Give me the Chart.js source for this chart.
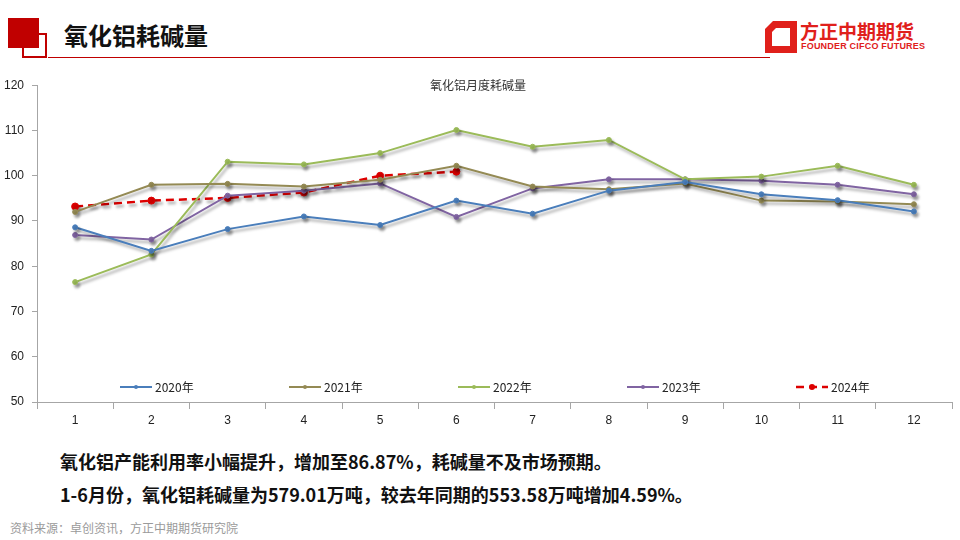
<!DOCTYPE html>
<html>
<head>
<meta charset="utf-8">
<script src="https://cdn.jsdelivr.net/npm/chart.js@4.4.1/dist/chart.umd.min.js"></script>
<style>
  html, body { margin: 0; padding: 0; background: #fff; }
  body { width: 960px; height: 540px; position: relative; overflow: hidden; font-family: "Noto Sans CJK SC", sans-serif; }
  .sq-line { position: absolute; left: 22px; top: 33px; width: 21px; height: 21px; border: 2px solid #c00000; }
  .sq-fill { position: absolute; left: 8px; top: 18px; width: 31px; height: 30px; background: #c00000; }
  .rule { position: absolute; left: 48px; top: 57px; width: 722px; height: 1px; background: #c00000; }
  .title { position: absolute; left: 64px; top: 17px; font-size: 24px; font-weight: 700; color: #111; }
  .logo { position: absolute; left: 764px; top: 20px; }
  .logo-cn { position: absolute; left: 800px; top: 17px; font-size: 19px; font-weight: 700; color: #e0201b; }
  .logo-en { position: absolute; left: 801px; top: 41px; font-size: 9px; font-weight: 700; color: #e0201b; font-family: "Liberation Sans", sans-serif; letter-spacing: 0.2px; }
  #wrap { position: absolute; left: 0; top: 70px; width: 960px; height: 360px; }
  .note { position: absolute; left: 60px; font-size: 18px; font-weight: 700; color: #111; }
  .src { position: absolute; left: 10px; top: 519px; font-size: 12px; color: #9a9a9a; }
</style>
</head>
<body>
<div class="sq-line"></div>
<div class="sq-fill"></div>
<div class="rule"></div>
<div class="title">氧化铝耗碱量</div>
<svg class="logo" width="34" height="34" viewBox="0 0 34 34">
  <path d="M9 1 H33 V33 H1 V9 Z M12 8 L8 12 V26 H26 V8 Z" fill="#e0201b" fill-rule="evenodd"/>
</svg>
<div class="logo-cn">方正中期期货</div>
<div class="logo-en">FOUNDER CIFCO FUTURES</div>
<div id="wrap"><canvas id="chart" width="960" height="360"></canvas></div>
<div class="note" style="top:448px;">氧化铝产能利用率小幅提升，增加至86.87%，耗碱量不及市场预期。</div>
<div class="note" style="top:481px;">1-6月份，氧化铝耗碱量为579.01万吨，较去年同期的553.58万吨增加4.59%。</div>
<div class="src">资料来源：卓创资讯，方正中期期货研究院</div>

<script>
const months = ['1', '2', '3', '4', '5', '6', '7', '8', '9', '10', '11', '12'];
const seriesNames = ['2020年', '2021年', '2022年', '2023年', '2024年'];
const y2020 = [88.6, 83.4, 88.2, 91.0, 89.1, 94.5, 91.6, 96.7, 98.6, 95.9, 94.6, 92.1];
const y2021 = [92.0, 98.0, 98.2, 97.6, 99.1, 102.2, 97.6, 97.0, 98.3, 94.5, 94.3, 93.7];
const y2022 = [76.5, 82.6, 103.1, 102.5, 105.0, 110.1, 106.4, 107.9, 99.2, 99.8, 102.2, 98.0];
const y2023 = [86.9, 85.9, 95.6, 96.7, 98.3, 90.9, 97.2, 99.2, 99.2, 98.9, 98.0, 95.9];
const y2024 = [93.2, 94.5, 95.1, 96.3, 100.0, 100.9];
const chartTitle = '氧化铝月度耗碱量';

const colors = ['#4a7ebb', '#948a54', '#9bbb59', '#8064a2', '#dd0000'];

function lineSet(label, data, color, dashed) {
    return {
        label: label,
        data: data,
        borderColor: color,
        backgroundColor: color,
        pointBackgroundColor: color,
        pointBorderColor: color,
        borderWidth: dashed ? 2.5 : 2,
        borderDash: dashed ? [8, 5] : [],
        pointRadius: dashed ? 3.5 : 2.5,
        pointBorderWidth: 1,
        tension: 0,
        fill: false
    };
}

// Excel style drop shadow under each line
const shadowPlugin = {
    id: 'shadow',
    beforeDatasetDraw(chart) {
        const ctx = chart.ctx;
        ctx.save();
        ctx.shadowColor = 'rgba(0, 0, 0, 0.35)';
        ctx.shadowBlur = 3;
        ctx.shadowOffsetX = 2;
        ctx.shadowOffsetY = 3;
    },
    afterDatasetDraw(chart) {
        chart.ctx.restore();
    }
};

// title and legend drawn inside the plot area
const overlayPlugin = {
    id: 'overlay',
    afterDraw(chart) {
        const ctx = chart.ctx;
        const area = chart.chartArea;
        ctx.save();
        ctx.fillStyle = '#333';
        ctx.font = '12px "Noto Sans CJK SC", sans-serif';
        ctx.textAlign = 'center';
        ctx.textBaseline = 'middle';
        ctx.fillText(chartTitle, 478, 15);

        const ly = area.bottom - 15;
        ctx.textAlign = 'left';
        ctx.font = '12px "Liberation Sans Narrow", "Noto Sans CJK SC", sans-serif';
        chart.data.datasets.forEach((ds, i) => {
            const x0 = 120 + i * 169;
            ctx.strokeStyle = ds.borderColor;
            ctx.lineWidth = ds.borderWidth;
            ctx.setLineDash(ds.borderDash);
            ctx.beginPath();
            ctx.moveTo(x0, ly);
            ctx.lineTo(x0 + 32, ly);
            ctx.stroke();
            ctx.setLineDash([]);
            ctx.fillStyle = ds.borderColor;
            ctx.beginPath();
            ctx.arc(x0 + 16, ly, ds.pointRadius - 0.5, 0, Math.PI * 2);
            ctx.fill();
            ctx.fillStyle = '#222';
            ctx.fillText(ds.label, x0 + 35, ly);
        });
        ctx.restore();
    }
};

new Chart(document.getElementById('chart').getContext('2d'), {
    type: 'line',
    data: {
        labels: months,
        datasets: [
            lineSet(seriesNames[0], y2020, colors[0], false),
            lineSet(seriesNames[1], y2021, colors[1], false),
            lineSet(seriesNames[2], y2022, colors[2], false),
            lineSet(seriesNames[3], y2023, colors[3], false),
            lineSet(seriesNames[4], y2024, colors[4], true)
        ]
    },
    options: {
        responsive: false,
        animation: false,
        layout: { padding: { top: 11, right: 8, left: 0, bottom: 0 } },
        plugins: {
            legend: { display: false },
            title: { display: false },
            tooltip: { enabled: false }
        },
        scales: {
            x: {
                offset: true,
                grid: {
                    offset: true,
                    drawOnChartArea: false,
                    drawTicks: true,
                    tickLength: 7,
                    color: '#a6a6a6'
                },
                border: { display: true, color: '#a6a6a6', width: 1 },
                ticks: {
                    color: '#222',
                    padding: 4,
                    font: { family: 'Liberation Sans', size: 12 }
                },
                afterFit(scale) { scale.height = 28; }
            },
            y: {
                min: 50,
                max: 120,
                grid: {
                    drawOnChartArea: false,
                    drawTicks: true,
                    tickLength: 5,
                    color: '#a6a6a6'
                },
                border: { display: true, color: '#a6a6a6', width: 1 },
                ticks: {
                    stepSize: 10,
                    color: '#222',
                    padding: 8,
                    font: { family: 'Liberation Sans', size: 12 }
                },
                afterFit(scale) { scale.width = 37; }
            }
        }
    },
    plugins: [shadowPlugin, overlayPlugin]
});
</script>
</body>
</html>
